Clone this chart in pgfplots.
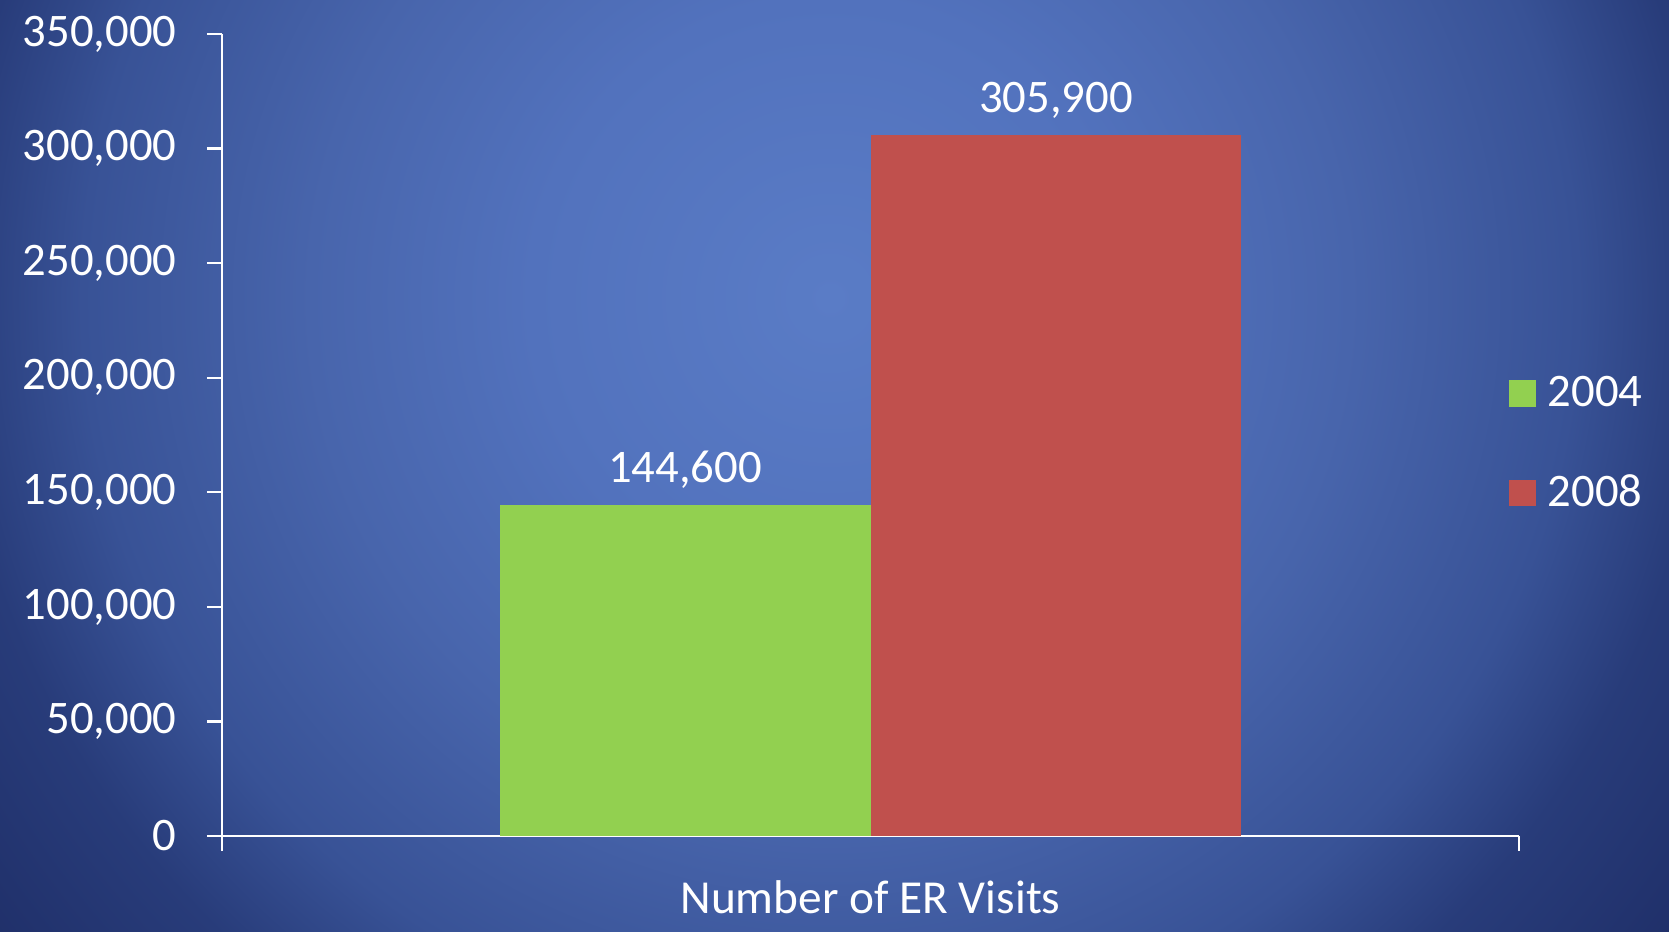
\documentclass[border=0pt]{standalone}
\usepackage{fontspec}
\setmainfont{Carlito}
\usepackage{pgfplots}
\pgfplotsset{compat=1.18}
\definecolor{bg0}{RGB}{90,124,198}
\definecolor{bg1}{RGB}{82,114,189}
\definecolor{bg2}{RGB}{72,101,172}
\definecolor{bg3}{RGB}{56,82,150}
\definecolor{bg4}{RGB}{40,60,122}
\definecolor{bg5}{RGB}{32,48,106}
\definecolor{bg6}{RGB}{31,46,103}
\definecolor{bargreen}{RGB}{146,208,80}
\definecolor{barred}{RGB}{192,80,77}
\pgfdeclareradialshading{bgshade}{\pgfpoint{0bp}{0bp}}{%
color(0bp)=(bg0); color(6.8bp)=(bg1); color(11.8bp)=(bg2); color(17bp)=(bg3);
color(20bp)=(bg4); color(23.9bp)=(bg5); color(25bp)=(bg6); color(50bp)=(bg6)}
\pgfplotsset{sqlegend/.style={legend image code/.code={\fill[##1,draw=none] (0pt,-4pt) rectangle (8pt,4pt);}}}
\newcommand{\chartfont}{\fontsize{14}{16.8}\selectfont}
\begin{document}
\begin{tikzpicture}[x=1pt,y=1pt]
% 1 px = 0.3pt ; axis origin at px (222,836)
\begin{scope}
\clip (-66.6,-28.5) rectangle (434.1,250.8);
\shade[shading=bgshade] (182.4-330,250.8-89.4-330) rectangle (182.4+330,250.8-89.4+330);
\end{scope}
\path[use as bounding box] (-66.6,-28.5) rectangle (434.1,250.8);
\begin{axis}[
  at={(0,0)}, anchor=south west,
  scale only axis, width=389.1pt, height=240.6pt,
  ybar=0pt, bar width=0.572,
  xmin=0, xmax=2, ymin=0, ymax=350000,
  enlarge x limits=false,
  axis x line*=bottom, axis y line*=left,
  axis line style={white, line width=0.7pt},
  xtick={0,2}, xticklabels={},
  ytick={0,50000,...,350000},
  tick align=outside,
  major tick length=4.5pt,
  tick style={white, line width=0.7pt},
  scaled y ticks=false,
  /pgf/number format/.cd, fixed, precision=0, 1000 sep={,}, assume math mode=true, /pgfplots/.cd,
  yticklabel style={font=\chartfont, text=white, anchor=east, inner sep=0pt, xshift=-9pt},
  xlabel={Number of ER Visits},
  xlabel style={font=\fontsize{14.2}{17}\selectfont, text=white, at={(axis description cs:0.5,0)}, anchor=center, yshift=-18.3pt},
  nodes near coords={\pgfmathprintnumber[fixed,precision=0,1000 sep={,},assume math mode=true]{\pgfplotspointmeta}},
  every node near coord/.append style={font=\chartfont, text=white, yshift=1.4pt},
  clip=false,
  legend style={draw=none, fill=none, font=\chartfont, text=white,
    at={(rel axis cs:0.992,0.489)}, anchor=west, inner sep=0pt,
    row sep=15pt, column sep=1.6pt, nodes={inner sep=2pt}},
  legend cell align=left,
]
\addplot[fill=bargreen, draw=none, sqlegend] coordinates {(1,144600)};
\addplot[fill=barred, draw=none, sqlegend] coordinates {(1,305900)};
\legend{2004,2008}
\end{axis}
\end{tikzpicture}
\end{document}
